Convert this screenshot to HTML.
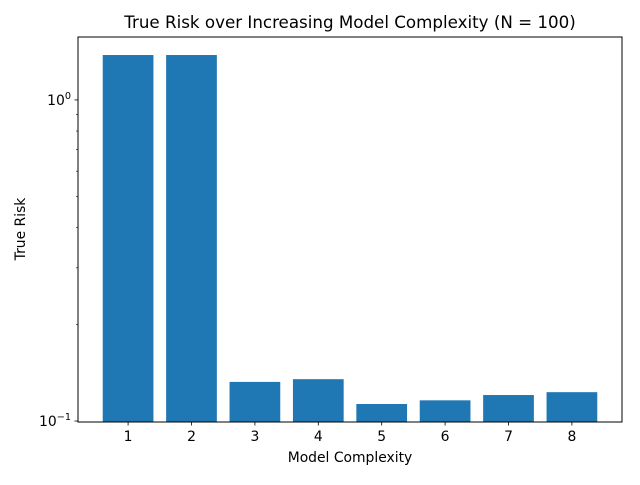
<!DOCTYPE html>
<html><head><meta charset="utf-8"><style>
body{margin:0;background:#fff;}
svg text{font-family:"DejaVu Sans","Liberation Sans",sans-serif;fill:#000;}
</style></head><body>
<svg id="chart" width="640" height="480" xmlns="http://www.w3.org/2000/svg">
<rect width="640" height="480" fill="#fff"/>
<text x="350" y="28" font-size="16.7" text-anchor="middle">True Risk over Increasing Model Complexity (N = 100)</text>
<g id="bars"></g>
<g id="axes"></g>
<text x="350" y="462" font-size="13.9" text-anchor="middle">Model Complexity</text>
<text transform="translate(25,229) rotate(-90)" font-size="13.9" text-anchor="middle">True Risk</text>
</svg>
<script>
const categories = [1,2,3,4,5,6,7,8];
const risks = [1.38,1.38,0.1324,0.135,0.113,0.116,0.1205,0.123];
const yMajorTicks = [0.1,1];
const yMajorExp = ["-1","0"];
const L=78,R=622,T=37,B=422;
const xmin=0.21,xmax=8.79, lmin=-1.003, lmax=0.196;
const xs=v=>L+(v-xmin)/(xmax-xmin)*(R-L);
const ys=v=>B-(Math.log10(v)-lmin)/(lmax-lmin)*(B-T);
const NS="http://www.w3.org/2000/svg";
const bars=document.getElementById('bars'), axes=document.getElementById('axes');
function mk(tag,attrs,parent){const e=document.createElementNS(NS,tag);for(const k in attrs)e.setAttribute(k,attrs[k]);parent.appendChild(e);return e;}
const bw=(xs(1.8)-xs(1));
categories.forEach((c,i)=>{
  const y=ys(risks[i]);
  const r=mk('rect',{x:xs(c)-bw/2,y:y,width:bw,height:B-y,fill:'#1f77b4'},bars);
  
  
  const t=mk('line',{x1:xs(c),x2:xs(c),y1:B,y2:B+3.5,stroke:'#000','stroke-width':0.8},axes);
  
  
  const lb=mk('text',{x:xs(c),y:B+19,'font-size':13.9,'text-anchor':'middle'},axes);
  lb.textContent=c;
  
  
});
yMajorTicks.forEach((v,i)=>{
  const y=ys(v);
  const t=mk('line',{x1:L-3.5,x2:L,y1:y,y2:y,stroke:'#000','stroke-width':0.8},axes);
  
  
  const lb=mk('text',{x:L-7,y:y+5,'font-size':13.9,'text-anchor':'end'},axes);
  lb.innerHTML='10<tspan dy="-6" font-size="9.7">\u2212'.replace('\u2212',yMajorExp[i].startsWith('-')?'\u2212':'')+yMajorExp[i].replace('-','')+'</tspan>';
  
  
});
for(let m=2;m<=9;m++){[0.1,1].forEach(d=>{const v=m*d;if(Math.log10(v)>lmax)return;
  const y=ys(v);
  const t=mk('line',{x1:L-2,x2:L,y1:y,y2:y,stroke:'#000','stroke-width':0.6},axes);
  
  
});}
const f=mk('rect',{x:L,y:T,width:R-L,height:B-T,fill:'none',stroke:'#000','stroke-width':1},axes);


</script>
</body></html>
